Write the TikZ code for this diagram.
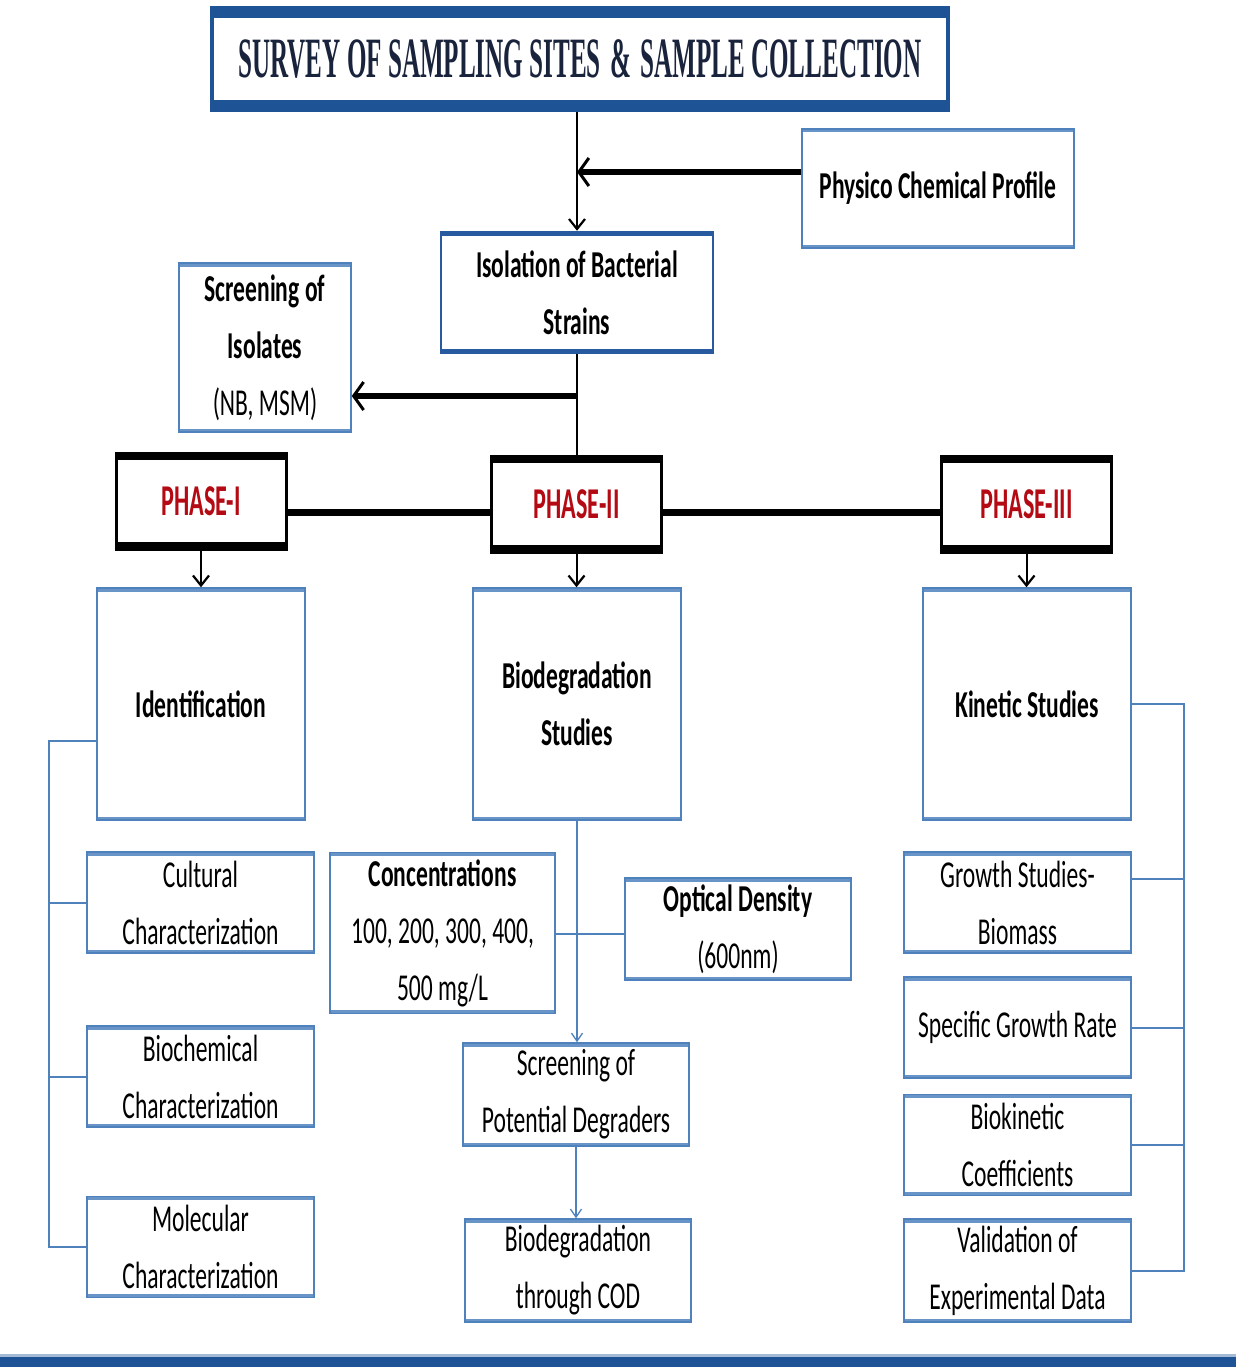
\documentclass[tikz,border=0pt]{standalone}
\usepackage{fontspec}
\usetikzlibrary{arrows.meta}
\newfontfamily\bodyfont{Carlito}[FakeStretch=0.62]
\newfontfamily\phasefont{Carlito}[FakeStretch=0.55]
\newfontfamily\titlefont{Liberation Serif}[FakeStretch=0.44]
\definecolor{boxblue}{RGB}{79,129,189}
\definecolor{titleblue}{RGB}{30,84,150}
\definecolor{isoblue}{RGB}{40,90,160}
\definecolor{phasered}{RGB}{180,10,20}
\definecolor{titletext}{RGB}{25,35,60}
\tikzset{
  bands/.style 2 args={path picture={
    \fill[#1] (path picture bounding box.north west) rectangle ([yshift=-#2]path picture bounding box.north east);
    \fill[#1] (path picture bounding box.south west) rectangle ([yshift=#2]path picture bounding box.south east);}},
  bbox/.style={draw=boxblue, line width=1.5pt, fill=white, inner sep=0pt, align=center,
    font=\bodyfont\fontsize{38}{57}\selectfont, text=black, bands={boxblue!85}{3.5pt}},
  isobox/.style={bbox, draw=isoblue, line width=2.5pt, bands={isoblue}{4pt}},
  titlebox/.style={draw=titleblue, line width=4pt, fill=white, inner sep=0pt, align=center,
    text=titletext, font=\titlefont\bfseries\fontsize{57}{60}\selectfont, bands={titleblue}{10pt}},
  phasebox/.style={draw=black, line width=3pt, fill=white, inner sep=0pt, align=center,
    text=phasered, font=\phasefont\bfseries\fontsize{44}{50}\selectfont, bands={black}{7pt},
    minimum width=170pt, minimum height=96pt},
  thickarrow/.style={line width=6.5pt, -{Straight Barb[length=10pt,width=28pt,line width=3pt]}},
  downarrow/.style={line width=2pt, -{Straight Barb[length=10pt,width=16pt,line width=2.2pt]}},
  bluearrow/.style={draw=boxblue, line width=1.4pt, -{Straight Barb[length=8pt,width=11pt,line width=1.3pt]}},
  bline/.style={draw=boxblue, line width=2pt},
  phaseline/.style={line width=7pt},
}
\begin{document}
\begin{tikzpicture}[x=1pt,y=-1pt]
\useasboundingbox (0,0) rectangle (1236,1367);

% top
\node[titlebox, minimum width=736pt, minimum height=102pt] (title) at (580,59) {SURVEY OF SAMPLING SITES\,\&\,SAMPLE COLLECTION};
\node[bbox, minimum width=272pt, minimum height=119pt] (phys) at (938,188.5) {\bfseries Physico Chemical Profile};
\node[isobox, minimum width=272pt, minimum height=121pt] (iso) at (577,292.5) {\bfseries Isolation of Bacterial\\\bfseries Strains};
\node[bbox, minimum width=172pt, minimum height=169pt] (scr) at (265,347.5) {\bfseries Screening of\\\bfseries Isolates\\(NB, MSM)};

% phases
\node[phasebox] (p1) at (201,501) {PHASE-I};
\node[phasebox] (p2) at (576.5,504) {PHASE-II};
\node[phasebox] (p3) at (1026.5,504) {PHASE-III};

% main boxes
\node[bbox, minimum width=208pt, minimum height=232pt] (ident) at (201,704) {\bfseries Identification};
\node[bbox, minimum width=208pt, minimum height=232pt] (bio) at (577,704) {\bfseries Biodegradation\\\bfseries Studies};
\node[bbox, minimum width=208pt, minimum height=232pt] (kin) at (1027,704) {\bfseries Kinetic Studies};

% left column
\node[bbox, minimum width=227pt, minimum height=101pt] (cult) at (200.5,902.5) {Cultural\\Characterization};
\node[bbox, minimum width=227pt, minimum height=101pt] (bioc) at (200.5,1076.5) {Biochemical\\Characterization};
\node[bbox, minimum width=227pt, minimum height=101pt] (mol) at (200.5,1247) {Molecular\\Characterization};

% middle column
\node[bbox, minimum width=225pt, minimum height=161pt] (conc) at (442.5,933) {\bfseries Concentrations\\100, 200, 300, 400,\\500 mg/L};
\node[bbox, minimum width=226pt, minimum height=102pt] (od) at (738,929) {\bfseries Optical Density\\(600nm)};
\node[bbox, minimum width=226pt, minimum height=103pt] (spd) at (576,1094.5) {Screening of\\Potential Degraders};
\node[bbox, minimum width=226pt, minimum height=103pt] (cod) at (578,1270.5) {Biodegradation\\through COD};

% right column
\node[bbox, minimum width=227pt, minimum height=101pt] (grow) at (1017.5,902.5) {Growth Studies-\\Biomass};
\node[bbox, minimum width=227pt, minimum height=101pt] (sgr) at (1017.5,1027.5) {Specific Growth Rate};
\node[bbox, minimum width=227pt, minimum height=101pt] (bk) at (1017.5,1145) {Biokinetic\\Coefficients};
\node[bbox, minimum width=227pt, minimum height=103pt] (val) at (1017.5,1270.5) {Validation of\\Experimental Data};

% connectors top
\draw[downarrow] (title.south -| iso.north) -- (iso.north);
\coordinate (physin) at ([yshift=16.5pt]phys.west);
\draw[thickarrow] (physin) -- (physin -| iso.north);
\draw[line width=2.5pt] (iso.south) -- (iso.south |- p2.north);
\coordinate (br) at (577,396);
\draw[thickarrow] (br) -- (br -| scr.east);

% phase links
\coordinate (ph) at (0,512);
\draw[phaseline] (p1.east |- ph) -- (p2.west |- ph);
\draw[phaseline] (p2.east |- ph) -- (p3.west |- ph);
\draw[downarrow] (p1.south) -- (p1.south |- ident.north);
\draw[downarrow] (p2.south) -- (p2.south |- bio.north);
\draw[downarrow] (p3.south) -- (p3.south |- kin.north);

% left bracket
\coordinate (lb) at (49,741);
\draw[bline] ([yshift=-37pt]ident.west) -- (lb) |- (mol.west);
\draw[bline] (lb |- cult.west) -- (cult.west);
\draw[bline] (lb |- bioc.west) -- (bioc.west);

% middle
\draw[bluearrow] (bio.south) -- (bio.south |- spd.north);
\coordinate (cm) at (0,934);
\draw[bline, line width=1.8pt] (conc.east |- cm) -- (od.west |- cm);
\draw[bluearrow] (spd.south) -- (spd.south |- cod.north);

% right bracket
\coordinate (rb) at (1184,0);
\draw[bline] (kin.east) -- (kin.east -| rb) |- (val.east);
\coordinate (growin) at ([yshift=23.5pt]grow.east);
\draw[bline] (growin) -- (growin -| rb);
\draw[bline] (sgr.east) -- (sgr.east -| rb);
\draw[bline] (bk.east) -- (bk.east -| rb);

% bottom bar
\fill[titleblue] (0,1357) rectangle (1236,1367);
\fill[titleblue!40] (0,1354) rectangle (1236,1357);
\end{tikzpicture}
\end{document}
